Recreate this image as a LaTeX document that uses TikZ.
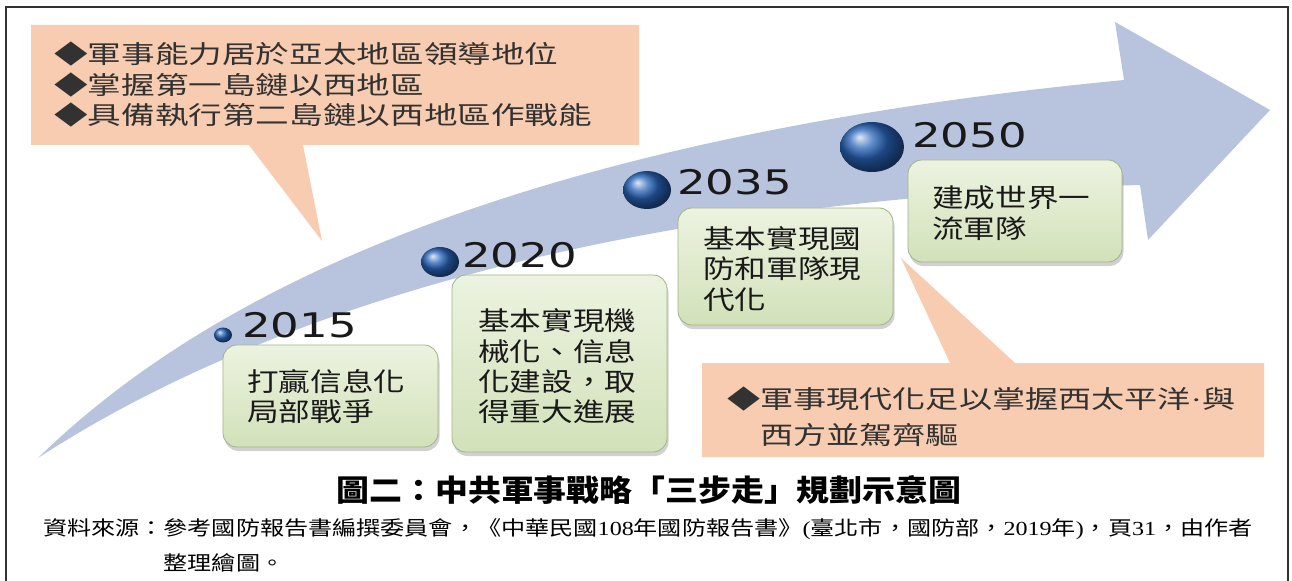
\documentclass[tikz,border=0pt]{standalone}
\usepackage{fontspec}
\usepackage{graphicx}
\usetikzlibrary{shadows}
\setmainfont{Noto Sans CJK TC}
\newfontfamily\yearfont{DejaVu Sans}
\newfontfamily\numfont{Liberation Serif}
\definecolor{arrowblue}{RGB}{184,196,222}
\definecolor{peach}{RGB}{248,204,176}
\definecolor{boxtop}{RGB}{236,243,224}
\definecolor{boxbot}{RGB}{210,225,185}
\definecolor{boxline}{RGB}{160,180,135}
\definecolor{dotblue}{RGB}{40,100,185}
\definecolor{framecol}{RGB}{50,50,50}
\definecolor{calltext}{RGB}{50,50,50}
\newcommand{\hlines}[2]{\scalebox{#1}[1]{\begin{tabular}{@{}l@{}}#2\end{tabular}}}
\renewcommand{\arraystretch}{1}
\begin{document}
\begin{tikzpicture}[x=1bp,y=-1bp,
  greenbox/.style={rounded corners=14bp, top color=boxtop, bottom color=boxbot,
    draw=boxline, line width=0.8bp, inner sep=0pt,
    drop shadow={shadow xshift=1.5bp, shadow yshift=-4bp, fill=black!40, opacity=0.45}},
  boxtext/.style={anchor=west, inner sep=0pt, text=black!90,
    font=\fontsize{26}{29}\selectfont},
  calltextstyle/.style={anchor=west, inner sep=0pt, text=calltext,
    font=\fontsize{25}{30}\selectfont},
  yeartext/.style={anchor=west, inner sep=0pt, text=black!90,
    font=\yearfont\fontsize{34}{34}\selectfont},
  callout/.style={fill=peach},
  dot/.style={ball color=dotblue}]
\useasboundingbox (0,0) rectangle (1292,581);
\fill[white] (0,0) rectangle (1292,581);
% frame
\draw[framecol, line width=2bp] (6,590) -- (6,7) -- (1288,7) -- (1288,590);
% top callout
\fill[callout] (31,25) -- (639,25) -- (639,145) -- (303,145) -- (322,241)
  -- (249,145) -- (31,145) -- cycle;
\node[calltextstyle] (topnote) at (54,88) {\hlines{1.35}{◆軍事能力居於亞太地區領導地位\\◆掌握第一島鏈以西地區\\◆具備執行第二島鏈以西地區作戰能}};
% arrow
\fill[arrowblue] (38,458) .. controls (200,300) and (500,140) .. (1124,80)
  -- (1115,22) -- (1270,110) -- (1148,240) -- (1140,185)
  .. controls (600,200) and (250,320) .. (38,458) -- cycle;
% bottom callout
\fill[callout] (702,363) -- (950,363) -- (901,258) -- (1015,363) -- (1264,363)
  -- (1264,457) -- (702,457) -- cycle;
\node[calltextstyle, font=\fontsize{25}{36}\selectfont] (botnote) at (727,419) {\hlines{1.33}{◆軍事現代化足以掌握西太平洋{\numfont ·}與\\\phantom{◆}西方並駕齊驅}};
% dots
\shade[dot] (223,335) ellipse [x radius=9, y radius=7.5];
\shade[dot] (440,262) ellipse [x radius=19, y radius=15];
\shade[dot] (647,190) ellipse [x radius=24, y radius=19];
\shade[dot] (872,147) ellipse [x radius=32, y radius=25];
% years
\node[yeartext] (y2015) at (242,325) {\scalebox{1.33}[1]{2015}};
\node[yeartext] (y2020) at (462,255) {\scalebox{1.33}[1]{2020}};
\node[yeartext] (y2035) at (677,182) {\scalebox{1.33}[1]{2035}};
\node[yeartext] (y2050) at (912,135) {\scalebox{1.33}[1]{2050}};
% green boxes
\node[greenbox, minimum width=215bp, minimum height=102bp] (b2015) at (330.5,396) {};
\node[greenbox, minimum width=215bp, minimum height=177bp] (b2020) at (559.5,363.5) {};
\node[greenbox, minimum width=215bp, minimum height=117bp] (b2035) at (785.5,266.5) {};
\node[greenbox, minimum width=214bp, minimum height=102bp] (b2050) at (1015,211) {};
\node[boxtext] (t2015) at (247,400) {\hlines{1.22}{打贏信息化\\局部戰爭}};
\node[boxtext] (t2020) at (478,369.5) {\hlines{1.22}{基本實現機\\械化、信息\\化建設，取\\得重大進展}};
\node[boxtext] (t2035) at (703,272) {\hlines{1.22}{基本實現國\\防和軍隊現\\代化}};
\node[boxtext] (t2050) at (932,216.5) {\hlines{1.22}{建成世界一\\流軍隊}};
% caption
\node[inner sep=0pt, font=\bfseries\fontsize{30}{30}\selectfont] (caption) at (649,490)
  {\scalebox{1.1}[1]{圖二：中共軍事戰略「三步走」規劃示意圖}};
\node[anchor=west, inner sep=0pt, font=\fontsize{20}{35}\selectfont] (source) at (43,546)
  {\scalebox{1.21}[1]{\begin{tabular}{@{}l@{}l@{}}資料來源：&參考國防報告書編撰委員會，《中華民國{\numfont 108}年國防報告書》{\numfont (}臺北市，國防部，{\numfont 2019}年{\numfont )}，頁{\numfont 31}，由作者\\ &整理繪圖。\end{tabular}}};
\end{tikzpicture}
\end{document}
